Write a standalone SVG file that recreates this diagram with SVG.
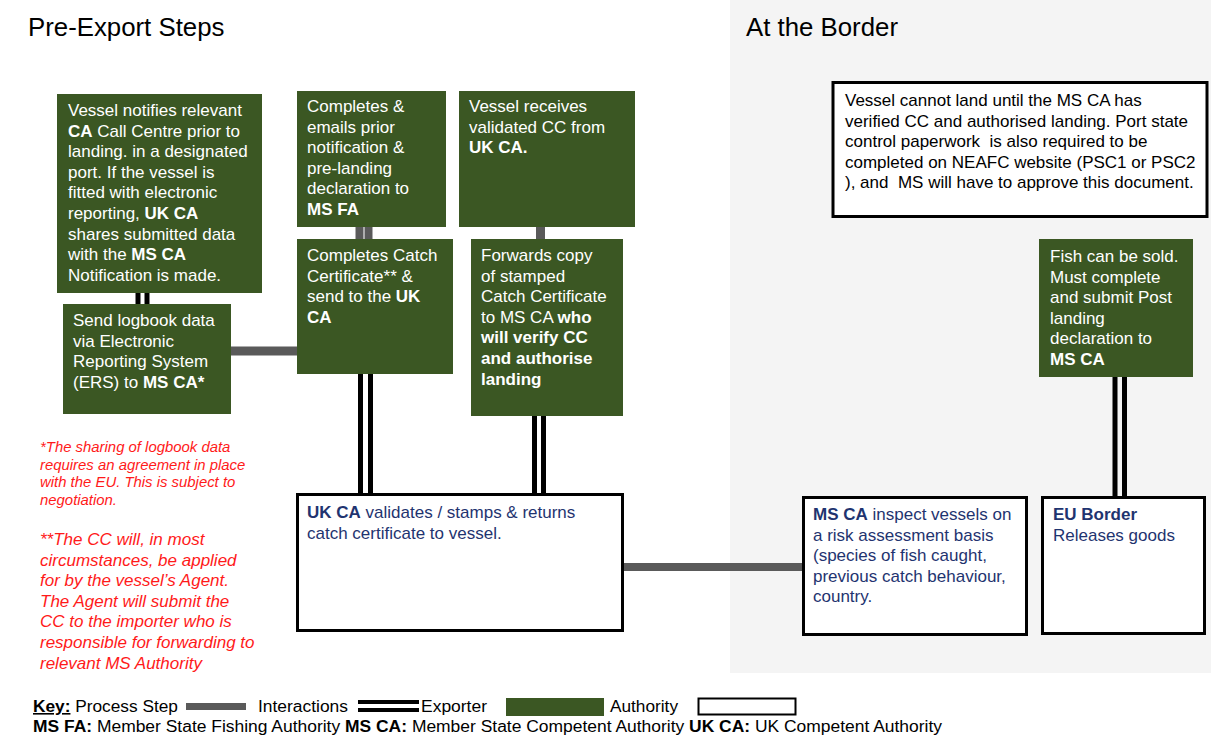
<svg xmlns="http://www.w3.org/2000/svg" width="1211" height="735" viewBox="0 0 1211 735">
<style>
.t{font-family:"Liberation Sans",Arial,sans-serif;}
.w{fill:#ffffff;font-size:17px;}
.b{font-weight:bold;}
.bl{fill:#1f3470;font-size:17px;}
.blk{fill:#000000;font-size:17px;white-space:pre;}
.red{fill:#ff1a1a;font-style:italic;}
.green{fill:#3b5723;}
.wbox{fill:#ffffff;stroke:#000000;stroke-width:3;}
.grey{stroke:#5a5a5a;fill:none;}
.dbl{stroke:#000000;stroke-width:5;fill:none;}
.title{font-size:25.8px;fill:#000000;}
.key{font-size:16px;fill:#000000;}
</style>
<rect x="730" y="0" width="481" height="673" fill="#f4f4f4"/>
<text class="t title" x="28" y="36">Pre-Export Steps</text>
<text class="t title" x="746" y="36">At the Border</text>

<g id="connectors">
  <line class="dbl" x1="138" y1="292" x2="138" y2="305" stroke-width="4"/>
  <line class="dbl" x1="147" y1="292" x2="147" y2="305" stroke-width="4"/>
  <line class="grey" x1="230" y1="351" x2="298" y2="351" stroke-width="9"/>
  <line class="grey" x1="359.5" y1="226" x2="359.5" y2="240" stroke-width="8"/>
  <line class="grey" x1="368.5" y1="226" x2="368.5" y2="240" stroke-width="8"/>
  <line class="grey" x1="540.5" y1="226" x2="540.5" y2="240" stroke-width="9"/>
  <line class="dbl" x1="360.5" y1="373" x2="360.5" y2="494"/>
  <line class="dbl" x1="370.5" y1="373" x2="370.5" y2="494"/>
  <line class="dbl" x1="534.5" y1="415" x2="534.5" y2="494"/>
  <line class="dbl" x1="543.5" y1="415" x2="543.5" y2="494"/>
  <line class="grey" x1="623" y1="567" x2="804" y2="567" stroke-width="8"/>
  <line class="dbl" x1="1115" y1="376" x2="1115" y2="498"/>
  <line class="dbl" x1="1124.5" y1="376" x2="1124.5" y2="498"/>
</g>

<g id="n-notify">
  <rect class="green" x="57" y="94" width="205" height="199"/>
  <text class="t w">
    <tspan x="68" y="116">Vessel notifies relevant</tspan>
    <tspan x="68" y="136.6"><tspan class="b">CA</tspan> Call Centre prior to</tspan>
    <tspan x="68" y="157.2">landing. in a designated</tspan>
    <tspan x="68" y="177.8">port. If the vessel is</tspan>
    <tspan x="68" y="198.4">fitted with electronic</tspan>
    <tspan x="68" y="219">reporting, <tspan class="b">UK CA</tspan></tspan>
    <tspan x="68" y="239.6">shares submitted data</tspan>
    <tspan x="68" y="260.2">with the <tspan class="b">MS CA</tspan></tspan>
    <tspan x="68" y="280.8">Notification is made.</tspan>
  </text>
</g>

<g id="n-logbook">
  <rect class="green" x="63" y="304" width="168" height="110"/>
  <text class="t w">
    <tspan x="73" y="326">Send logbook data</tspan>
    <tspan x="73" y="346.6">via Electronic</tspan>
    <tspan x="73" y="367.2">Reporting System</tspan>
    <tspan x="73" y="387.8">(ERS) to <tspan class="b">MS CA*</tspan></tspan>
  </text>
</g>

<g id="n-emails">
  <rect class="green" x="297" y="91" width="149" height="136"/>
  <text class="t w">
    <tspan x="307" y="112">Completes &amp;</tspan>
    <tspan x="307" y="132.6">emails prior</tspan>
    <tspan x="307" y="153.2">notification &amp;</tspan>
    <tspan x="307" y="173.8">pre-landing</tspan>
    <tspan x="307" y="194.4">declaration to</tspan>
    <tspan x="307" y="215" class="b">MS FA</tspan>
  </text>
</g>

<g id="n-receives">
  <rect class="green" x="459" y="91" width="176" height="136"/>
  <text class="t w">
    <tspan x="469" y="112">Vessel receives</tspan>
    <tspan x="469" y="132.6">validated CC from</tspan>
    <tspan x="469" y="153.2" class="b">UK CA.</tspan>
  </text>
</g>

<g id="n-catchcert">
  <rect class="green" x="297" y="239" width="156" height="135"/>
  <text class="t w">
    <tspan x="307" y="261">Completes Catch</tspan>
    <tspan x="307" y="281.6">Certificate** &amp;</tspan>
    <tspan x="307" y="302.2">send to the <tspan class="b">UK</tspan></tspan>
    <tspan x="307" y="322.8" class="b">CA</tspan>
  </text>
</g>

<g id="n-forwards">
  <rect class="green" x="471" y="239" width="152" height="177"/>
  <text class="t w">
    <tspan x="481" y="261">Forwards copy</tspan>
    <tspan x="481" y="281.6">of stamped</tspan>
    <tspan x="481" y="302.2">Catch Certificate</tspan>
    <tspan x="481" y="322.8">to MS CA <tspan class="b">who</tspan></tspan>
    <tspan x="481" y="343.4" class="b">will verify CC</tspan>
    <tspan x="481" y="364" class="b">and authorise</tspan>
    <tspan x="481" y="384.6" class="b">landing</tspan>
  </text>
</g>

<g id="n-ukca">
  <rect class="wbox" x="297.5" y="494.5" width="325" height="136"/>
  <text class="t bl">
    <tspan x="307" y="518"><tspan class="b">UK CA</tspan> validates / stamps &amp; returns</tspan>
    <tspan x="307" y="538.6">catch certificate to vessel.</tspan>
  </text>
</g>

<g id="n-note">
  <rect class="wbox" x="833" y="82.5" width="374" height="134"/>
  <text class="t blk">
    <tspan x="845" y="106">Vessel cannot land until the MS CA has</tspan>
    <tspan x="845" y="126.6">verified CC and authorised landing. Port state</tspan>
    <tspan x="845" y="147.2">control paperwork  is also required to be</tspan>
    <tspan x="845" y="167.8">completed on NEAFC website (PSC1 or PSC2</tspan>
    <tspan x="845" y="188.4">), and  MS will have to approve this document.</tspan>
  </text>
</g>

<g id="n-fish">
  <rect class="green" x="1039" y="239" width="154" height="138"/>
  <text class="t w">
    <tspan x="1050" y="262">Fish can be sold.</tspan>
    <tspan x="1050" y="282.6">Must complete</tspan>
    <tspan x="1050" y="303.2">and submit Post</tspan>
    <tspan x="1050" y="323.8">landing</tspan>
    <tspan x="1050" y="344.4">declaration to</tspan>
    <tspan x="1050" y="365" class="b">MS CA</tspan>
  </text>
</g>

<g id="n-msca">
  <rect class="wbox" x="803.5" y="497.5" width="223" height="137"/>
  <text class="t bl">
    <tspan x="813" y="520"><tspan class="b">MS CA</tspan> inspect vessels on</tspan>
    <tspan x="813" y="540.6">a risk assessment basis</tspan>
    <tspan x="813" y="561.2">(species of fish caught,</tspan>
    <tspan x="813" y="581.8">previous catch behaviour,</tspan>
    <tspan x="813" y="602.4">country.</tspan>
  </text>
</g>

<g id="n-euborder">
  <rect class="wbox" x="1042.5" y="497.5" width="162" height="136"/>
  <text class="t bl">
    <tspan x="1053" y="520" class="b">EU Border</tspan>
    <tspan x="1053" y="540.6">Releases goods</tspan>
  </text>
</g>

<g id="notes">
  <text class="t red" font-size="14.9">
    <tspan x="40" y="452">*The sharing of logbook data</tspan>
    <tspan x="40" y="469.6">requires an agreement in place</tspan>
    <tspan x="40" y="487.2">with the EU. This is subject to</tspan>
    <tspan x="40" y="504.8">negotiation.</tspan>
  </text>
  <text class="t red" font-size="17">
    <tspan x="40" y="545">**The CC will, in most</tspan>
    <tspan x="40" y="565.6">circumstances, be applied</tspan>
    <tspan x="40" y="586.2">for by the vessel’s Agent.</tspan>
    <tspan x="40" y="606.8">The Agent will submit the</tspan>
    <tspan x="40" y="627.4">CC to the importer who is</tspan>
    <tspan x="40" y="648">responsible for forwarding to</tspan>
    <tspan x="40" y="668.6">relevant MS Authority</tspan>
  </text>
</g>

<g id="key">
  <text class="t key" x="33" y="712" textLength="145" lengthAdjust="spacingAndGlyphs"><tspan class="b" text-decoration="underline">Key:</tspan> Process Step</text>
  <rect x="186" y="703" width="60" height="7" fill="#5a5a5a"/>
  <text class="t key" x="258" y="712" textLength="90" lengthAdjust="spacingAndGlyphs">Interactions</text>
  <rect x="358" y="700" width="61" height="4" fill="#000"/>
  <rect x="358" y="708" width="61" height="4" fill="#000"/>
  <text class="t key" x="421" y="712" textLength="66" lengthAdjust="spacingAndGlyphs">Exporter</text>
  <rect class="green" x="506" y="698" width="98" height="18"/>
  <text class="t key" x="610" y="712" textLength="68" lengthAdjust="spacingAndGlyphs">Authority</text>
  <rect x="698.5" y="698.5" width="97" height="16" fill="#fff" stroke="#000" stroke-width="2"/>
  <text class="t key" x="33" y="732" textLength="909" lengthAdjust="spacingAndGlyphs"><tspan class="b">MS FA:</tspan> Member State Fishing Authority <tspan class="b">MS CA:</tspan> Member State Competent Authority  <tspan class="b">UK CA:</tspan> UK Competent Authority</text>
</g>
</svg>
